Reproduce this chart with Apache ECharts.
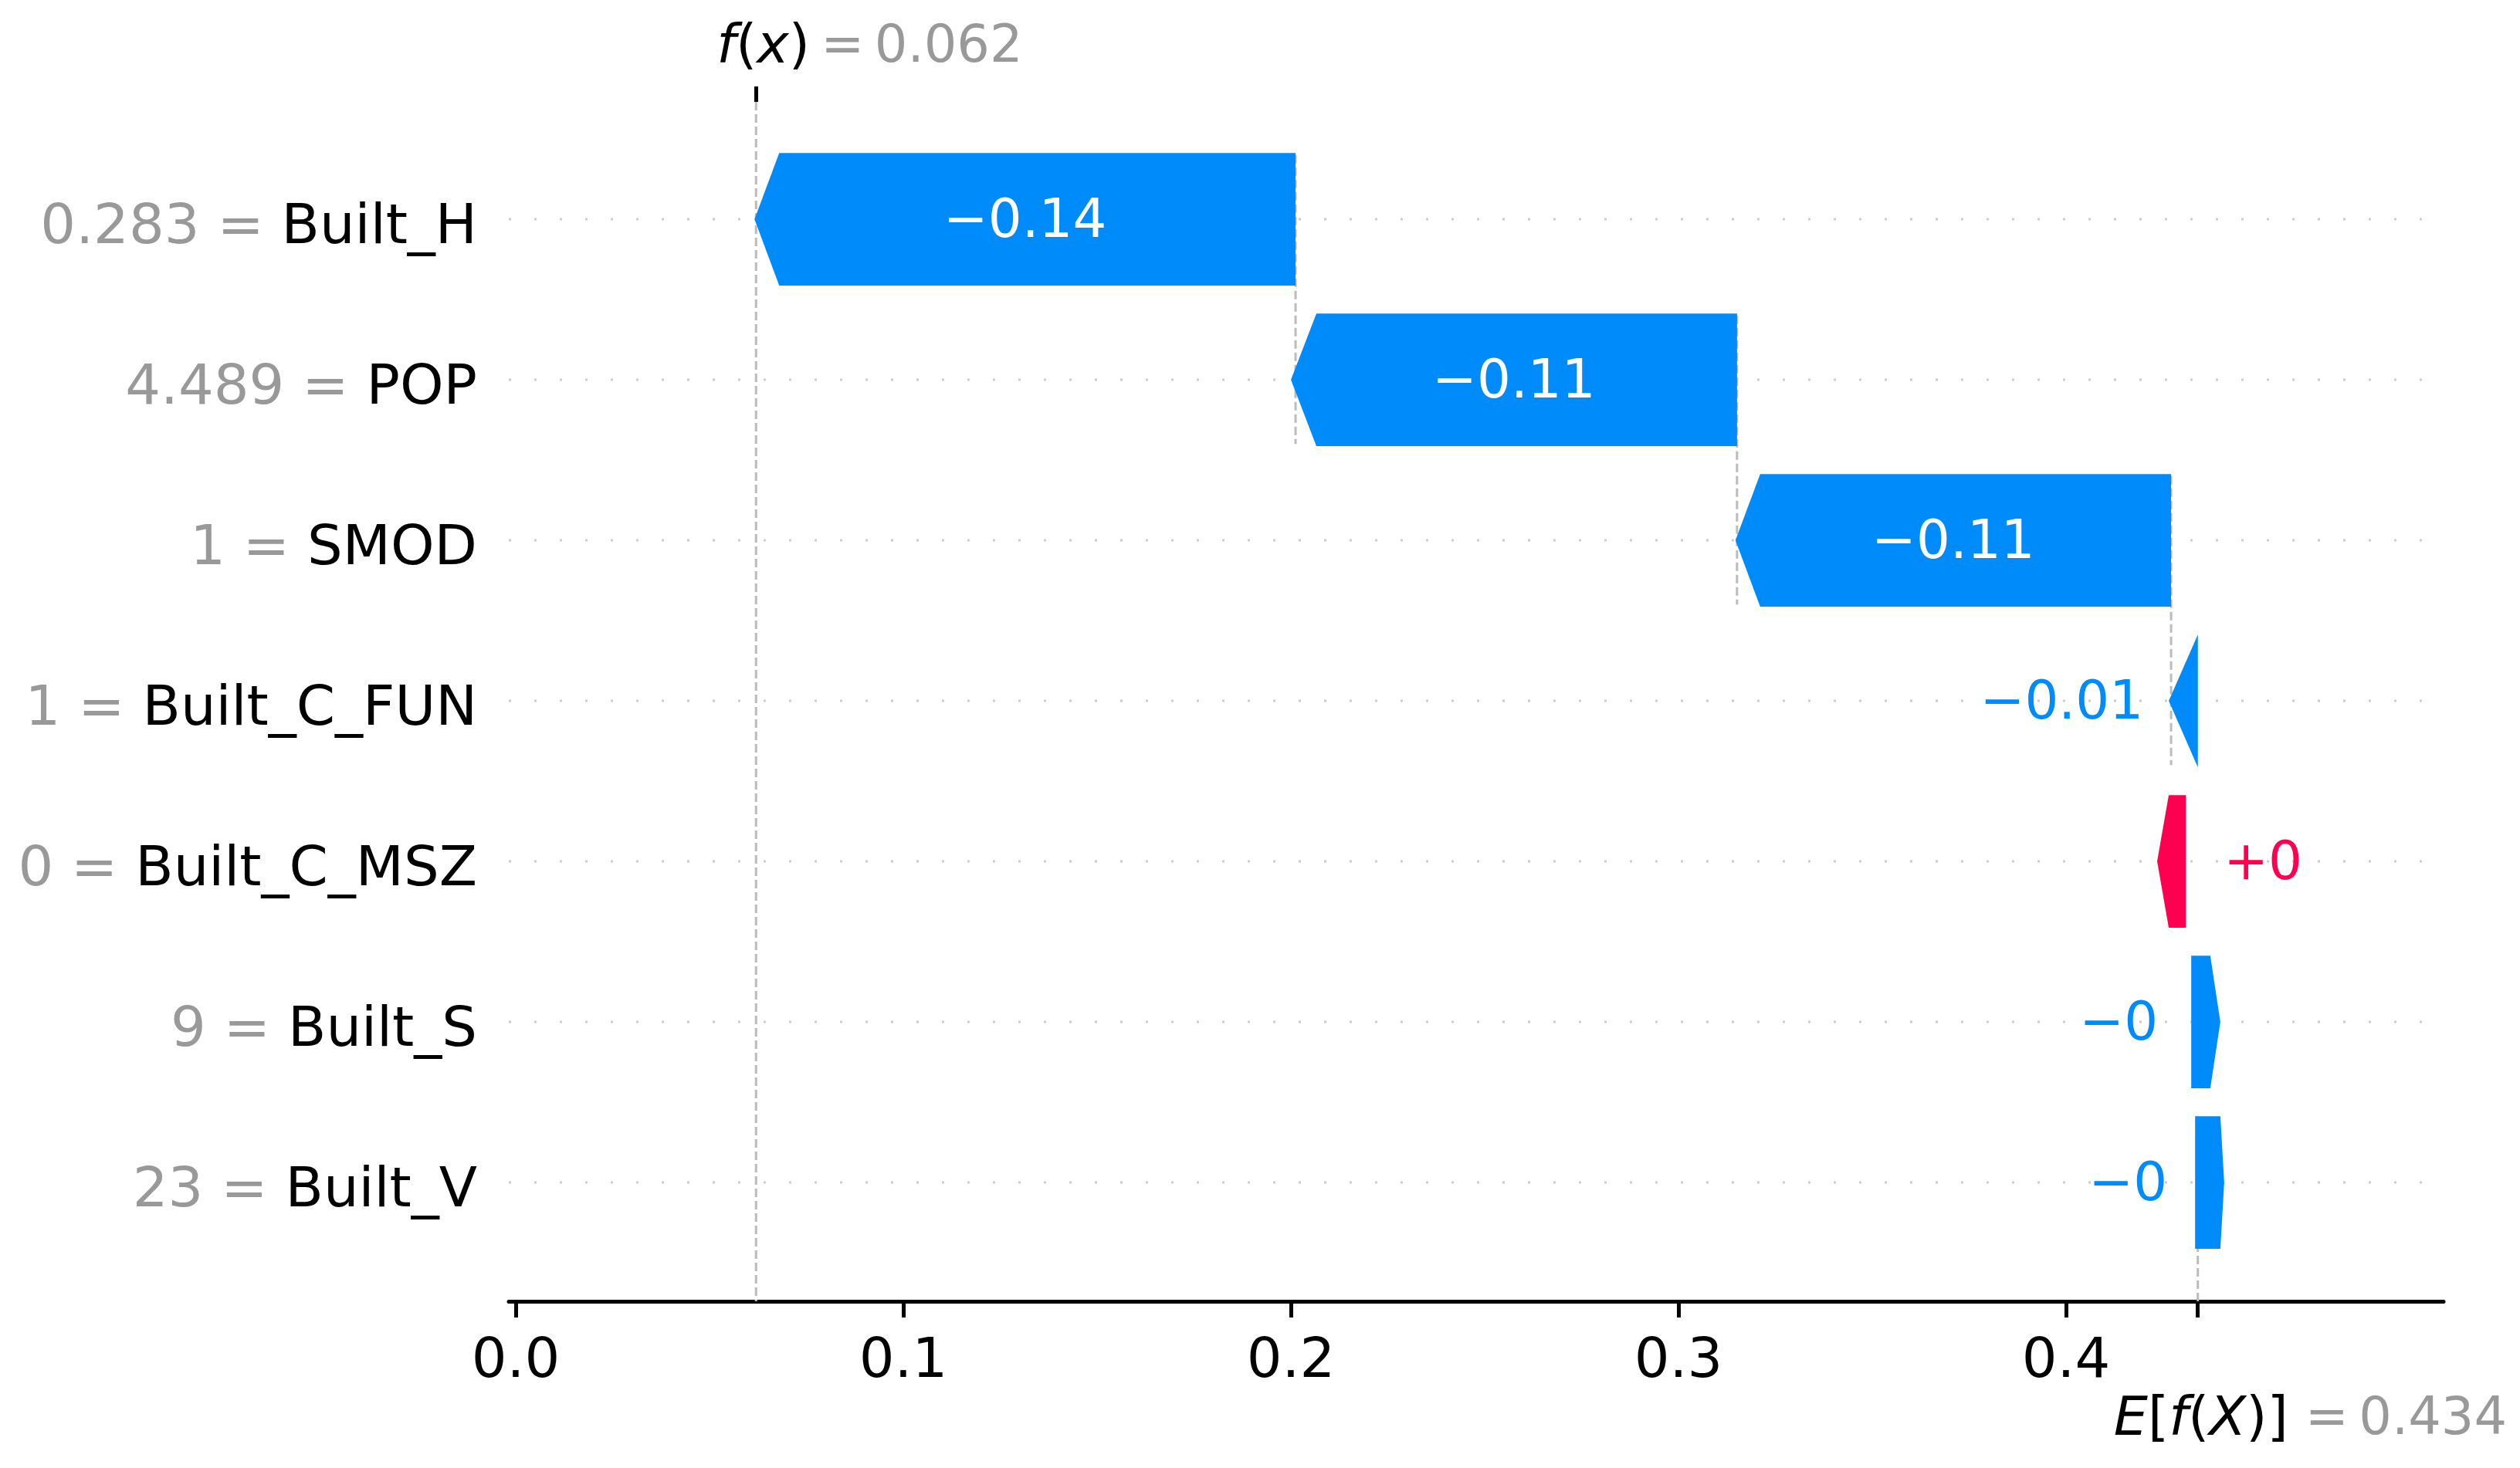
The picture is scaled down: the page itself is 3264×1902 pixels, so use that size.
<!DOCTYPE html>
<html><head><meta charset="utf-8">
<script src="https://cdn.jsdelivr.net/npm/echarts@6.0.0/dist/echarts.min.js"></script>
<style>html,body{margin:0;padding:0;background:#fff}#c{width:3264px;height:1902px}</style>
</head><body><div id="c"></div>
<script>
// ---------------- data ----------------
const features = ['Built_H', 'POP', 'SMOD', 'Built_C_FUN', 'Built_C_MSZ', 'Built_S', 'Built_V'];
const featureValues = ['0.283', '4.489', '1', '1', '0', '9', '23'];
const shapValues = [-0.1396, -0.1139, -0.1117, -0.0070, 0.0003, -0.0001, -0.0001];
// drawn extent of each arrow (tail -> tip), in axis units
const arrowFrom = [0.2012, 0.3151, 0.4271, 0.4340, 0.4309, 0.4323, 0.4333];
const arrowTo   = [0.0616, 0.2000, 0.3147, 0.4265, 0.4235, 0.4398, 0.4408];
const baseValue = 0.434;
const fxValue = 0.062;
const xTicks = [0, 0.1, 0.2, 0.3, 0.4];

// ---------------- style ----------------
const FONT = 'DejaVu Sans';
const BLUE = '#008bfb', RED = '#ff0051', GRAY = '#999999';
const X_MIN = -0.0018, X_MAX = 0.4974;
const Y_MIN = -0.731, Y_MAX = 6.74;
const BAR_HALF = 0.413;
const HEAD_PX = [32, 33, 32, 40, 15, 13, 5];
const LABEL_GAP_PX = [0, 0, 0, 33, 49, 43, 36];
const TEXT_DY = 5;

function fmt(v) {
  let s = Math.abs(v).toFixed(2);
  if (s.indexOf('.') >= 0) s = s.replace(/0+$/, '').replace(/\.$/, '');
  return (v < 0 ? '\u2212' : '+') + s;
}

function renderGuides(params, api) {
  const ch = [];
  for (let i = 0; i < features.length; i++) {
    const a = api.coord([X_MIN, i]), b = api.coord([X_MAX, i]);
    ch.push({type: 'line', shape: {x1: a[0], y1: a[1], x2: b[0], y2: b[1]},
      style: {stroke: '#cccccc', lineWidth: 3, lineDash: [3, 30]}});
  }
  const dashed = {stroke: '#bbbbbb', lineWidth: 3, lineDash: [11, 5]};
  const nConn = features.length - 4;
  for (let i = 0; i < nConn; i++) {
    const a = api.coord([arrowFrom[i], i - 0.4]), b = api.coord([arrowFrom[i], i + 1.4]);
    ch.push({type: 'line', shape: {x1: a[0], y1: a[1], x2: b[0], y2: b[1]}, style: dashed});
  }
  let a = api.coord([fxValue, Y_MIN]), b = api.coord([fxValue, Y_MAX]);
  ch.push({type: 'line', shape: {x1: a[0], y1: a[1], x2: b[0], y2: b[1]}, style: dashed});
  a = api.coord([baseValue, Y_MAX]); b = api.coord([baseValue, Y_MAX - (Y_MAX - Y_MIN) / features.length]);
  ch.push({type: 'line', shape: {x1: a[0], y1: a[1], x2: b[0], y2: b[1]}, style: dashed});
  return {type: 'group', children: ch};
}

function renderArrow(params, api) {
  const i = api.value(1);
  const v = shapValues[i];
  const p0 = api.coord([arrowFrom[i], i]);
  const p1 = api.coord([arrowTo[i], i]);
  const half = api.size([0, BAR_HALF])[1];
  const y = p0[1];
  const len = Math.abs(p1[0] - p0[0]);
  const d = p1[0] >= p0[0] ? 1 : -1;
  const head = Math.min(HEAD_PX[i], len);
  const neck = p1[0] - d * head;
  const color = v >= 0 ? RED : BLUE;
  const pts = [[p0[0], y - half], [neck, y - half], [p1[0], y], [neck, y + half], [p0[0], y + half]];
  const ch = [{type: 'polygon', shape: {points: pts}, style: {fill: color}}];
  const txt = fmt(v);
  if (len > 300) {
    ch.push({type: 'text', x: (p0[0] + p1[0]) / 2, y: y + TEXT_DY,
      style: {text: txt, fill: '#ffffff', fontSize: 69, fontFamily: FONT, align: 'center', verticalAlign: 'middle'}});
  } else {
    const left = Math.min(p0[0], p1[0]), right = Math.max(p0[0], p1[0]);
    ch.push({type: 'text', x: v < 0 ? left - LABEL_GAP_PX[i] : right + LABEL_GAP_PX[i], y: y + TEXT_DY,
      style: {text: txt, fill: color, fontSize: 69, fontFamily: FONT, align: v < 0 ? 'right' : 'left', verticalAlign: 'middle'}});
  }
  return {type: 'group', children: ch};
}

const chart = echarts.init(document.getElementById('c'), null, {renderer: 'canvas'});
chart.setOption({
  animation: false,
  backgroundColor: '#ffffff',
  grid: {left: 659, right: 99, top: 132, bottom: 216},
  xAxis: [{
    type: 'value', position: 'bottom', min: X_MIN, max: X_MAX,
    axisLine: {show: true, onZero: false, lineStyle: {color: '#000', width: 5}},
    axisTick: {show: true, customValues: xTicks.concat([baseValue]), length: 21, lineStyle: {color: '#000', width: 5}},
    axisLabel: {customValues: xTicks, formatter: v => v.toFixed(1), fontSize: 72, color: '#000', fontFamily: FONT, margin: 43},
    splitLine: {show: false}
  }, {
    type: 'value', position: 'top', min: X_MIN, max: X_MAX,
    axisLine: {show: false, onZero: false},
    axisTick: {show: true, customValues: [fxValue], length: 20, lineStyle: {color: '#000', width: 5}},
    axisLabel: {show: false}, splitLine: {show: false}
  }],
  yAxis: {
    type: 'value', inverse: true, min: Y_MIN, max: Y_MAX,
    axisLine: {show: false}, axisTick: {show: false}, splitLine: {show: false},
    axisLabel: {
      customValues: features.map((f, i) => i),
      formatter: v => { const i = Math.round(v); return '{g|' + featureValues[i] + ' = }{n|' + features[i] + '}'; },
      margin: 41,
      padding: [24, 0, 0, 0],
      rich: {g: {color: GRAY, fontSize: 72, fontFamily: FONT}, n: {color: '#000', fontSize: 72, fontFamily: FONT}}
    }
  },
  series: [{
    type: 'custom', name: 'guides', z: 1, silent: true, clip: false,
    renderItem: renderGuides, data: [[fxValue, 0]]
  }, {
    type: 'custom', name: 'contributions', z: 3, clip: false,
    renderItem: renderArrow,
    data: features.map((f, i) => [arrowTo[i], i])
  }]
});

const fxPx = chart.convertToPixel({xAxisIndex: 0}, fxValue);
const basePx = chart.convertToPixel({xAxisIndex: 0}, baseValue);
const mathRich = {
  i: {fontSize: 70, fontFamily: FONT, fontStyle: 'italic', fill: '#000'},
  n: {fontSize: 70, fontFamily: FONT, fill: '#000'}
};
const grayStyle = {fontSize: 67, fontFamily: FONT, fill: GRAY, align: 'left', verticalAlign: 'middle'};
chart.setOption({
  graphic: [{
    type: 'text', x: fxPx - 51, y: 63,
    style: {text: '{i|f}{n|(}{i|x}{n|)}', align: 'left', verticalAlign: 'middle', rich: mathRich}
  }, {
    type: 'text', x: fxPx + 84, y: 63,
    style: Object.assign({text: '=\u2009' + fxValue.toFixed(3)}, grayStyle)
  }, {
    type: 'text', x: basePx - 109, y: 1841,
    style: {text: '{i|E}{n|[}{i|f}{n|(}{i|X}{n|)]}', align: 'left', verticalAlign: 'middle', rich: mathRich}
  }, {
    type: 'text', x: basePx + 139, y: 1841,
    style: Object.assign({text: '=\u2009' + baseValue.toFixed(3)}, grayStyle)
  }]
});
</script>
</body></html>
